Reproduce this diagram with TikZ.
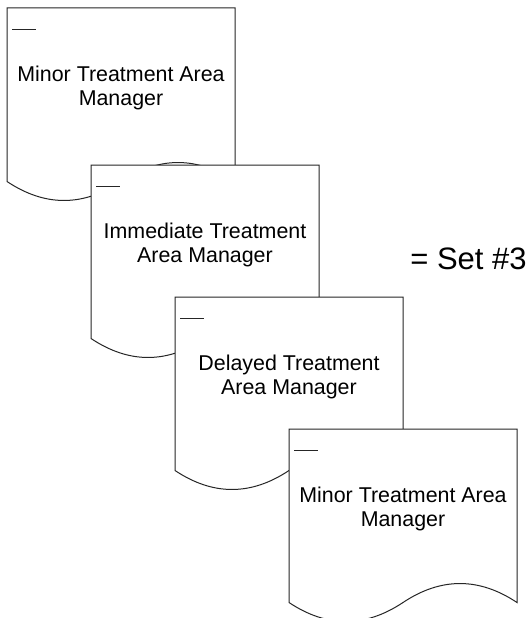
\documentclass[tikz,border=0pt]{standalone}
\usepackage{fontspec}
\setmainfont{Liberation Sans}
\begin{document}
\begin{tikzpicture}[x=1pt,y=-1pt,
  pageline/.style={draw=black!85,line width=1pt},
  pagefill/.style={pageline,fill=white,line join=miter},
  pagetext/.style={anchor=north,inner sep=0pt,align=center,
    font=\fontsize{21.4}{24}\selectfont,text=black},
  settext/.style={anchor=base,inner sep=0pt,
    font=\fontsize{31}{36}\selectfont,text=black},
  pics/docpage/.style={
    code={
      % page outline with the wavy lower edge
      \draw[pagefill] (0,0) -- (228,0) -- (228,173.5)
        .. controls (190,148.2) and (152,148.2) .. (114,173.5)
        .. controls (76,198.8) and (38,198.8) .. (0,173.5) -- cycle;
      % short rule in the upper left corner
      \draw[pageline] (5,21.5) -- (29,21.5);
      \node[pagetext] (-label) at (114,57.6) {#1};
    }
  }]
  \useasboundingbox (0,0) rectangle (531,618);
  \fill[white] (0,0) rectangle (531,618);

  \pic (d1) at (7,8)     {docpage={Minor Treatment Area\\Manager}};
  \pic (d2) at (91,165)  {docpage={Immediate Treatment\\Area Manager}};
  \pic (d3) at (175,297) {docpage={Delayed Treatment\\Area Manager}};
  \pic (d4) at (289,429) {docpage={Minor Treatment Area\\Manager}};

  \node[settext] (set) at (468.5,269) {= Set \#3};
\end{tikzpicture}
\end{document}
